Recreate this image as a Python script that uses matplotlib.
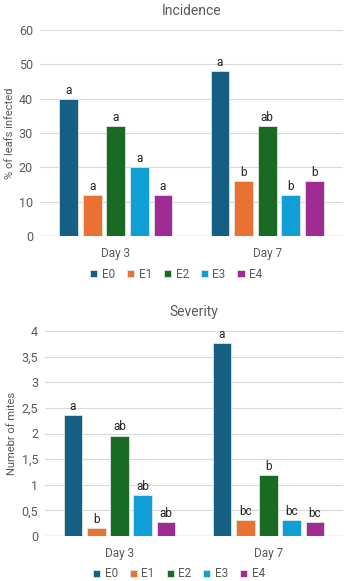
import matplotlib
matplotlib.use("Agg")
import matplotlib.pyplot as plt
import matplotlib.ticker as ticker
import numpy as np

plt.rcParams["font.family"] = ["Roboto", "DejaVu Sans"]

days = ["Day 3", "Day 7"]
treatments = ["E0", "E1", "E2", "E3", "E4"]
colors = ["#156082", "#E97132", "#196B24", "#0F9ED5", "#A02B93"]

incidence = {
    "E0": [40, 48],
    "E1": [12, 16],
    "E2": [32, 32],
    "E3": [20, 12],
    "E4": [12, 16],
}
incidence_letters = {
    "E0": ["a", "a"],
    "E1": ["a", "b"],
    "E2": ["a", "ab"],
    "E3": ["a", "b"],
    "E4": ["a", "b"],
}

severity = {
    "E0": [2.36, 3.76],
    "E1": [0.16, 0.32],
    "E2": [1.96, 1.19],
    "E3": [0.80, 0.32],
    "E4": [0.28, 0.28],
}
severity_letters = {
    "E0": ["a", "a"],
    "E1": ["b", "bc"],
    "E2": ["ab", "b"],
    "E3": ["ab", "bc"],
    "E4": ["ab", "bc"],
}

TEXT_GREY = "#595959"
STEP = 0.156
WIDTH = 0.125


def draw_panel(ax, values, letters, title, ylabel, ymax, ystep, comma=False):
    x = np.arange(len(days))
    for i, t in enumerate(treatments):
        pos = x + (i - 2) * STEP
        bars = ax.bar(
            pos,
            values[t],
            WIDTH,
            color=colors[i],
            edgecolor="#dfe8e0",
            linewidth=0.6,
            label=t,
            zorder=3,
        )
        ax.bar_label(bars, labels=letters[t], padding=1.5, fontsize=8.5, color="#222222")

    ax.set_xlim(-0.5, 1.5)
    ax.set_ylim(0, ymax)
    ax.yaxis.set_major_locator(ticker.MultipleLocator(ystep))
    if comma:
        ax.yaxis.set_major_formatter(
            ticker.FuncFormatter(lambda v, p: f"{v:g}".replace(".", ","))
        )
    ax.set_xticks(x)
    ax.set_xticklabels(days)
    ax.tick_params(axis="both", length=0, labelsize=9, colors=TEXT_GREY, pad=5)
    ax.tick_params(axis="x", labelsize=8.5, pad=8)
    ax.grid(axis="y", color="#d9d9d9", linewidth=0.8, zorder=0)
    ax.axhline(0, color="#d0d0d0", linewidth=1, zorder=2)
    for s in ax.spines.values():
        s.set_visible(False)
    ax.set_title(title, fontsize=10, color=TEXT_GREY, pad=11)
    ax.set_ylabel(ylabel, fontsize=8, color=TEXT_GREY, labelpad=3)
    ax.legend(
        loc="center",
        bbox_to_anchor=(0.45, -0.185),
        ncol=5,
        frameon=False,
        fontsize=8.5,
        handlelength=0.6,
        handleheight=0.6,
        handletextpad=0.4,
        columnspacing=1.0,
        labelcolor=TEXT_GREY,
        borderpad=0.1,
    )


fig = plt.figure(figsize=(3.5, 5.81), dpi=100)
ax1 = fig.add_axes([40 / 350, 1 - 236 / 581, 303 / 350, 206 / 581])
ax2 = fig.add_axes([45 / 350, 1 - 536 / 581, 298 / 350, 205 / 581])

draw_panel(ax1, incidence, incidence_letters, "Incidence", "% of leafs infected", 60, 10)
draw_panel(ax2, severity, severity_letters, "Severity", "Numebr of mites", 4, 0.5, comma=True)

fig.savefig("out.png", dpi=100)
